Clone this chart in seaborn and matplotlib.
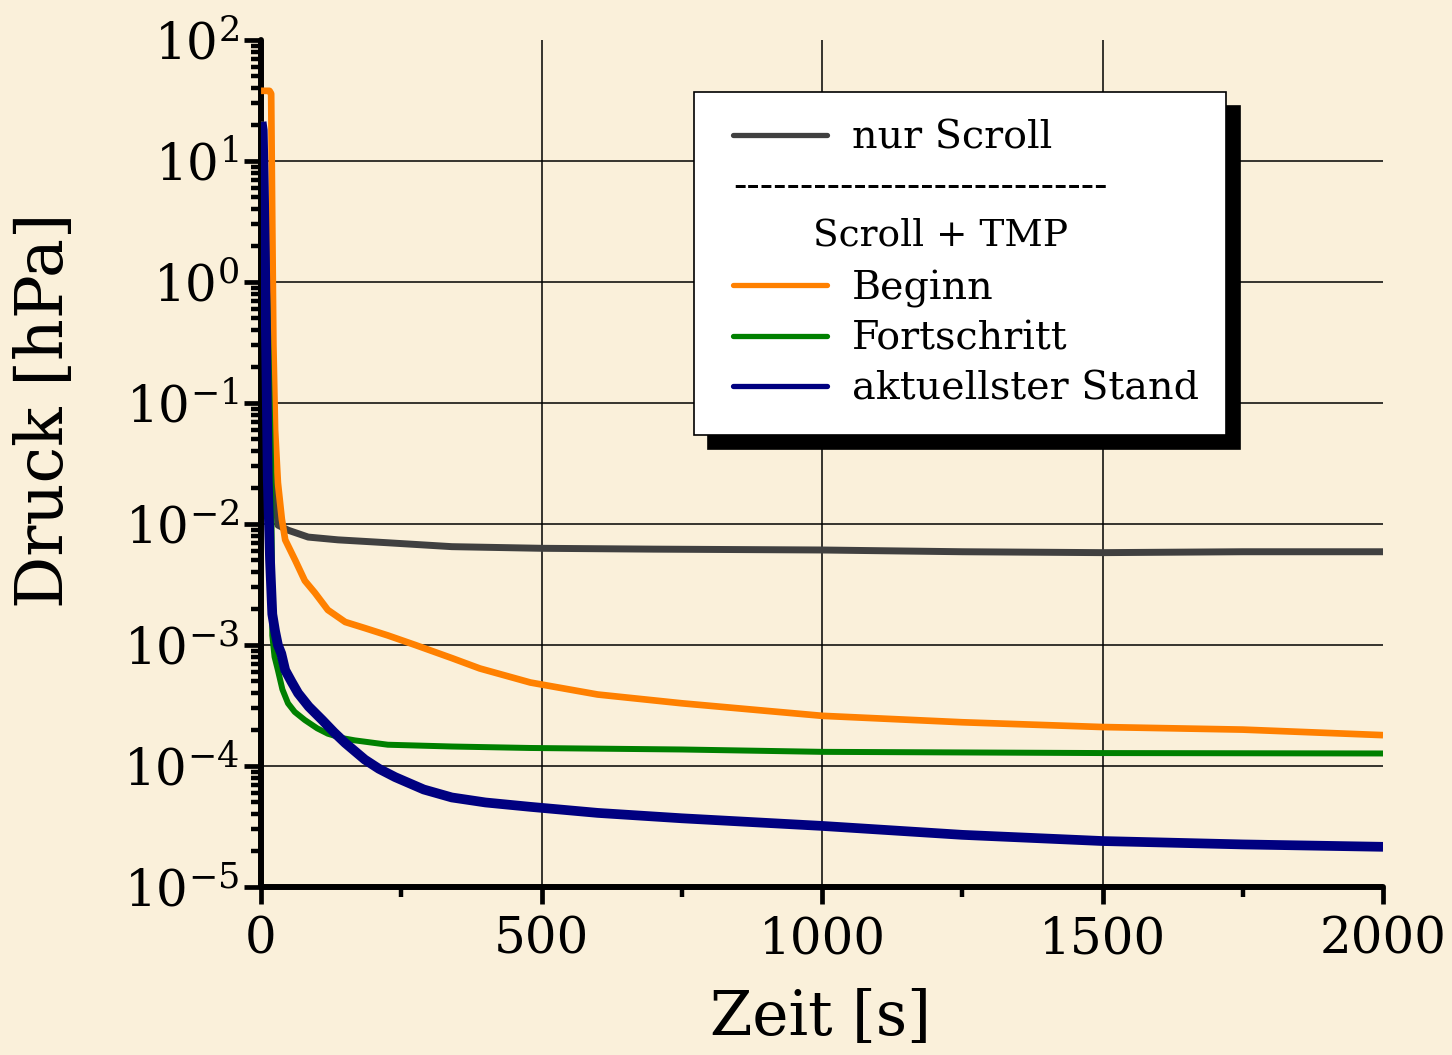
import matplotlib
matplotlib.use("Agg")
import matplotlib.pyplot as plt
from matplotlib.lines import Line2D
from matplotlib.legend_handler import HandlerLine2D
from matplotlib.ticker import FixedLocator, LogLocator, NullFormatter
import seaborn as sns
import pandas as pd

# ---------------- data ----------------
t_scroll = [0, 2, 5, 10, 15, 20, 25, 30, 48, 84, 137, 226, 340, 500,
            700, 1000, 1250, 1500, 1750, 2000]
p_scroll = [20, 20, 8, 1.5, 0.3, 0.07, 0.025, 0.0098, 0.0089, 0.0078, 0.0074,
            0.0070, 0.0065, 0.0063, 0.0062, 0.0061, 0.0059, 0.0058, 0.0059, 0.0059]

t_beginn = [0, 15, 18, 20, 22, 25, 30, 37, 43, 61, 78, 96, 119, 150, 185, 226,
            275, 340, 390, 480, 600, 750, 1000, 1250, 1500, 1750, 2000]
p_beginn = [38, 38, 36, 3, 0.3, 0.06, 0.022, 0.011, 0.0074, 0.005, 0.0034,
            0.0027, 0.00195, 0.00155, 0.00138, 0.0012, 0.001, 0.00078, 0.00064,
            0.00049, 0.00039, 0.00033, 0.00026, 0.00023, 0.00021, 0.0002, 0.00018]

t_fort = [1, 3, 6, 9, 12, 15, 18, 20, 24, 30, 38, 48, 60, 78, 100, 119, 145,
          167, 226, 340, 480, 750, 1000, 1500, 2000]
p_fort = [13, 12, 5, 1.5, 0.5, 0.12, 0.03, 0.0012, 0.0008, 0.00062, 0.00043,
          0.00033, 0.00028, 0.00024, 0.000205, 0.000185, 0.00017, 0.000163,
          0.00015, 0.000145, 0.000141, 0.000137, 0.000131, 0.000128, 0.000127]

t_akt = [1, 3, 5, 7, 9, 12, 16, 20, 25, 30, 36, 43, 54, 66, 85, 109, 130, 150,
         185, 210, 239, 290, 340, 400, 480, 600, 750, 1000, 1250, 1500, 1750, 2000]
p_akt = [21, 18, 6, 1.5, 0.3, 0.023, 0.005, 0.0018, 0.0013, 0.001, 0.00085,
         0.00062, 0.0005, 0.0004, 0.00031, 0.00024, 0.00019, 0.000155, 0.000113,
         0.000095, 8.1e-5, 6.4e-5, 5.5e-5, 5.0e-5, 4.6e-5, 4.1e-5, 3.7e-5, 3.2e-5,
         2.7e-5, 2.4e-5, 2.25e-5, 2.15e-5]

labels = ["nur Scroll", "Beginn", "Fortschritt", "aktuellster Stand"]
colors = ["#404040", "#FF8000", "#008000", "#000080"]
widths = [5.0, 4.8, 4.3, 7.0]
x_ticks = [0, 500, 1000, 1500, 2000]
x_minor = [250, 750, 1250, 1750]

# ---------------- styling ----------------
sns.set_theme(style="white")
bg = "#FAF0DA"
plt.rcParams["font.family"] = ["DejaVu Serif"]
plt.rcParams["mathtext.fontset"] = "dejavuserif"
plt.rcParams["text.color"] = "black"
plt.rcParams["axes.unicode_minus"] = False

fig = plt.figure(figsize=(14.52, 10.55), dpi=100, facecolor=bg)
ax = fig.add_axes([0.1798, 0.1592, 0.7727, 0.8029])
ax.set_facecolor(bg)

series = [(t_scroll, p_scroll), (t_beginn, p_beginn), (t_fort, p_fort), (t_akt, p_akt)]
for (t, p), lab, c, w in zip(series, labels, colors, widths):
    df = pd.DataFrame({"t": t, "p": p})
    sns.lineplot(data=df, x="t", y="p", color=c, linewidth=w, ax=ax,
                 legend=False, solid_joinstyle="round", solid_capstyle="butt",
                 zorder=3)

ax.set_yscale("log")
ax.set_xlim(0, 2000)
ax.set_ylim(1e-5, 1e2)
ax.xaxis.set_major_locator(FixedLocator(x_ticks))
ax.xaxis.set_minor_locator(FixedLocator(x_minor))
ax.yaxis.set_major_locator(LogLocator(base=10, numticks=20))
ax.yaxis.set_minor_locator(LogLocator(base=10, subs=range(2, 10), numticks=20))
ax.yaxis.set_minor_formatter(NullFormatter())

for s in ["top", "right"]:
    ax.spines[s].set_visible(False)
for s in ["left", "bottom"]:
    ax.spines[s].set_linewidth(4.3)
    ax.spines[s].set_color("black")
    ax.spines[s].set_capstyle("round")

ax.tick_params(axis="both", which="both", bottom=True, left=True, top=False,
               right=False)
ax.tick_params(axis="both", which="major", direction="out", length=12, width=3.4,
               color="black", labelsize=36, labelcolor="black", pad=4)
ax.tick_params(axis="both", which="minor", direction="out", length=7, width=3.2,
               color="black")
ax.tick_params(axis="x", which="major", pad=8)

ax.grid(True, which="major", color="black", linewidth=1.1)
ax.set_axisbelow(True)

ax.set_xlabel("Zeit [s]", fontsize=44, color="black", va="center")
ax.set_ylabel("Druck [hPa]", fontsize=47, color="black", va="center")
ax.xaxis.set_label_coords(0.499, -0.1547)
ax.yaxis.set_label_coords(-0.1925, 0.563)

# legend
handles = [Line2D([], [], color=colors[0], lw=3.8, solid_capstyle="round"),
           Line2D([], [], color="none"),
           Line2D([], [], color="none"),
           Line2D([], [], color=colors[1], lw=3.8, solid_capstyle="round"),
           Line2D([], [], color=colors[2], lw=3.8, solid_capstyle="round"),
           Line2D([], [], color=colors[3], lw=3.8, solid_capstyle="round")]
leg_labels = [labels[0], " ", " ", labels[1], labels[2], labels[3]]
leg = ax.legend(handles, leg_labels, loc="upper left",
                bbox_to_anchor=(0.386, 0.939), fontsize=28.5, frameon=True,
                fancybox=False, edgecolor="black", facecolor="white",
                framealpha=1, handlelength=2.65, handletextpad=0.63,
                labelspacing=0.33, borderpad=0.7, borderaxespad=0,
                labelcolor="black",
                handler_map={Line2D: HandlerLine2D(xpad=0.28)},
                shadow={"ox": 10, "oy": -10, "color": "black", "alpha": 1})
leg.get_frame().set_linewidth(1.2)
leg.set_zorder(5)
ax.text(0.4207, 0.8276, "-" * 28, transform=ax.transAxes, fontsize=28.5,
        ha="left", va="center", color="black", zorder=10)
ax.text(0.492, 0.7686, "Scroll + TMP", transform=ax.transAxes, fontsize=27,
        ha="left", va="center", color="black", zorder=10)

fig.canvas.draw()
xg = ax.xaxis.get_gridlines()
xg[0].set_visible(False)
xg[-1].set_visible(False)
yg = ax.yaxis.get_gridlines()
for line, loc in zip(yg, ax.yaxis.get_majorticklocs()):
    if loc <= 1e-5 * 1.01 or loc >= 1e2 * 0.99:
        line.set_visible(False)

fig.savefig("out.png", dpi=100, facecolor=bg)
